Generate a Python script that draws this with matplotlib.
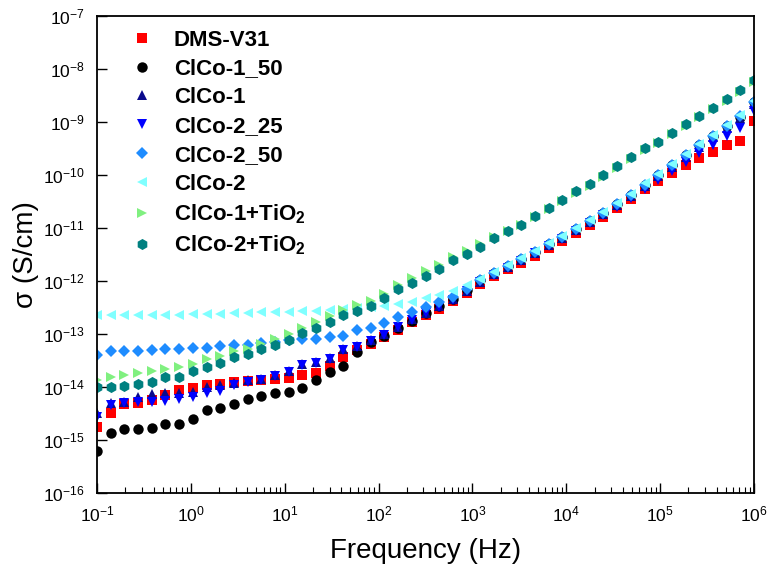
import numpy as np
import matplotlib
matplotlib.use("Agg")
import matplotlib.pyplot as plt

plt.rcParams['font.family'] = ['Liberation Sans', 'DejaVu Sans']
plt.rcParams['mathtext.fontset'] = 'custom'
plt.rcParams['mathtext.rm'] = 'Liberation Sans'
plt.rcParams['mathtext.it'] = 'Liberation Sans:italic'
plt.rcParams['mathtext.bf'] = 'Liberation Sans:bold'
plt.rcParams['axes.unicode_minus'] = False

# frequency grid (Hz), 49 points from 0.1 Hz to 1 MHz
freq = [0.1, 0.140, 0.196, 0.274, 0.383, 0.536, 0.750, 1.049, 1.468, 2.054,
        2.873, 4.019, 5.623, 7.867, 11.01, 15.40, 21.54, 30.14, 42.17, 58.99,
        82.54, 115.5, 161.6, 226.0, 316.2, 442.4, 618.9, 865.9, 1211, 1695,
        2371, 3318, 4642, 6494, 9085, 12710, 17780, 24880, 34810, 48700,
        68130, 95320, 133400, 186600, 261000, 365200, 510900, 714800, 1000000]

# log10 of conductivity (S/cm)
dms_v31 = [-14.75, -14.50, -14.33, -14.30, -14.25, -14.16, -14.06, -14.01, -13.97, -13.94,
           -13.91, -13.89, -13.87, -13.85, -13.83, -13.77, -13.73, -13.60, -13.44, -13.30,
           -13.19, -13.06, -12.92, -12.78, -12.65, -12.52, -12.38, -12.22, -12.05, -11.90,
           -11.78, -11.66, -11.52, -11.38, -11.24, -11.09, -10.94, -10.80, -10.63, -10.46,
           -10.27, -10.12, -9.97, -9.82, -9.68, -9.56, -9.43, -9.36, -8.98]
clco1_50 = [-15.20, -14.86, -14.80, -14.79, -14.78, -14.70, -14.70, -14.61, -14.44, -14.39,
            -14.33, -14.22, -14.17, -14.11, -14.09, -14.01, -13.86, -13.72, -13.61, -13.34,
            -13.16, -13.03, -12.89, -12.75, -12.61, -12.48, -12.34, -12.17, -11.99, -11.85,
            -11.72, -11.59, -11.45, -11.31, -11.17, -11.02, -10.87, -10.72, -10.55, -10.37,
            -10.18, -10.00, -9.81, -9.63, -9.44, -9.26, -9.08, -8.90, -8.63]
clco1 = [-14.50, -14.31, -14.28, -14.19, -14.14, -14.11, -14.12, -14.09, -14.00, -13.97,
         -13.93, -13.87, -13.84, -13.78, -13.69, -13.56, -13.53, -13.46, -13.29, -13.22,
         -13.12, -13.00, -12.86, -12.72, -12.60, -12.48, -12.34, -12.18, -12.01, -11.87,
         -11.74, -11.61, -11.47, -11.33, -11.19, -11.04, -10.89, -10.74, -10.57, -10.39,
         -10.20, -10.02, -9.84, -9.66, -9.47, -9.29, -9.11, -8.93, -8.67]
clco2_25 = [-14.57, -14.34, -14.30, -14.28, -14.28, -14.26, -14.22, -14.18, -14.11, -14.07,
            -13.97, -13.90, -13.86, -13.80, -13.72, -13.58, -13.55, -13.48, -13.31, -13.24,
            -13.13, -13.01, -12.87, -12.73, -12.61, -12.49, -12.35, -12.19, -12.02, -11.88,
            -11.75, -11.62, -11.48, -11.34, -11.20, -11.05, -10.90, -10.76, -10.60, -10.43,
            -10.26, -10.10, -9.93, -9.76, -9.59, -9.44, -9.27, -9.11, -8.80]
clco2_50 = [-13.40, -13.33, -13.32, -13.32, -13.31, -13.28, -13.28, -13.27, -13.26, -13.23,
            -13.21, -13.20, -13.17, -13.15, -13.11, -13.09, -13.09, -13.06, -13.03, -12.93,
            -12.89, -12.79, -12.68, -12.59, -12.49, -12.40, -12.30, -12.16, -11.99, -11.85,
            -11.72, -11.59, -11.45, -11.31, -11.17, -11.02, -10.87, -10.72, -10.55, -10.37,
            -10.18, -10.00, -9.81, -9.63, -9.44, -9.26, -9.08, -8.89, -8.63]
clco2 = [-12.65, -12.65, -12.65, -12.65, -12.65, -12.64, -12.64, -12.63, -12.63, -12.62,
         -12.61, -12.60, -12.59, -12.59, -12.59, -12.57, -12.56, -12.54, -12.53, -12.51,
         -12.49, -12.47, -12.43, -12.39, -12.33, -12.27, -12.18, -12.08, -11.97, -11.83,
         -11.70, -11.57, -11.43, -11.29, -11.15, -11.00, -10.85, -10.70, -10.53, -10.35,
         -10.16, -9.98, -9.79, -9.61, -9.42, -9.24, -9.06, -8.87, -8.60]
clco1_tio2 = [-13.87, -13.82, -13.78, -13.74, -13.70, -13.67, -13.62, -13.56, -13.48, -13.42,
              -13.33, -13.28, -13.19, -13.10, -13.00, -12.89, -12.78, -12.67, -12.55, -12.46,
              -12.37, -12.24, -12.08, -11.95, -11.82, -11.69, -11.54, -11.43, -11.31, -11.17,
              -11.06, -10.95, -10.80, -10.65, -10.50, -10.34, -10.20, -10.03, -9.86, -9.70,
              -9.52, -9.40, -9.23, -9.07, -8.91, -8.76, -8.60, -8.43, -8.24]
clco2_tio2 = [-14.00, -14.00, -13.99, -13.94, -13.91, -13.82, -13.81, -13.69, -13.62, -13.54,
              -13.44, -13.38, -13.29, -13.21, -13.11, -12.99, -12.88, -12.77, -12.65, -12.57,
              -12.48, -12.32, -12.16, -12.03, -11.91, -11.77, -11.60, -11.49, -11.35, -11.18,
              -11.06, -10.94, -10.78, -10.62, -10.47, -10.31, -10.17, -10.00, -9.83, -9.67,
              -9.49, -9.37, -9.20, -9.04, -8.88, -8.73, -8.57, -8.40, -8.21]

labels = ['DMS-V31', 'ClCo-1_50', 'ClCo-1', 'ClCo-2_25', 'ClCo-2_50', 'ClCo-2',
          r'ClCo-1+TiO$_\mathbf{2}$', r'ClCo-2+TiO$_\mathbf{2}$']
series = [dms_v31, clco1_50, clco1, clco2_25, clco2_50, clco2, clco1_tio2, clco2_tio2]
colors = ['#ff0000', '#000000', '#0a0a8c', '#0000ff', '#1e8cff', '#80ffff', '#80f080', '#008080']
markers = ['s', 'o', '^', 'v', 'D', '<', '>', 'h']
sizes = [6.5, 7.5, 7.5, 7.5, 6.5, 7.5, 7.5, 8]

fig = plt.figure(figsize=(7.68, 5.77), dpi=100)
ax = fig.add_axes([0.1263, 0.1456, 0.8555, 0.8267])

for vals, lab, c, m, s in zip(series, labels, colors, markers, sizes):
    ax.plot(freq, 10 ** np.array(vals), linestyle='none', marker=m, color=c,
            markersize=s, markeredgewidth=0, label=lab)

ax.set_xscale('log')
ax.set_yscale('log')
ax.set_xlim(1e-1, 1e6)
ax.set_ylim(1e-16, 1e-7)
ax.set_xticks([10.0 ** e for e in range(-1, 7)])
ax.set_yticks([10.0 ** e for e in range(-16, -6)])
ax.tick_params(which='both', direction='in', top=False, right=False, labelsize=12.5)
ax.tick_params(which='major', length=7, width=1)
ax.tick_params(which='minor', length=4, width=0.8)
ax.tick_params(axis='y', pad=9)
ax.tick_params(axis='x', pad=8)
for sp in ax.spines.values():
    sp.set_linewidth(1.3)

ax.set_xlabel('Frequency (Hz)', fontsize=20, labelpad=10)
ax.set_ylabel('σ (S/cm)', fontsize=20)
ax.yaxis.set_label_coords(-0.088, 0.5)

ax.legend(loc='upper left', bbox_to_anchor=(0.034, 0.99), frameon=False,
          prop={'size': 16, 'weight': 'bold'}, handlelength=1.2, handletextpad=0.85,
          labelspacing=0.35, borderaxespad=0)

fig.savefig('out.png', dpi=100)
